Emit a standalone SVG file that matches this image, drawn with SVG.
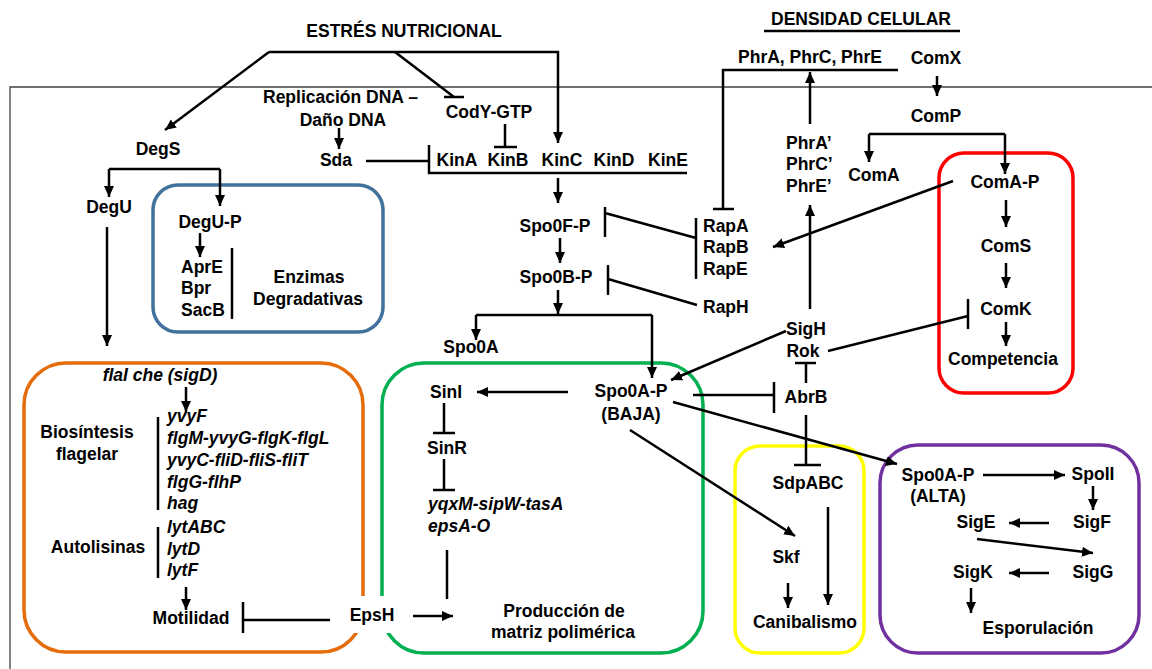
<svg xmlns="http://www.w3.org/2000/svg" width="1152" height="669" viewBox="0 0 1152 669">
<style>
.t{font-family:"Liberation Sans",Arial,sans-serif;font-weight:bold;font-size:17.5px;fill:#000}
.m{text-anchor:middle}
.i{font-style:italic}
.c path{fill:none;stroke:#000;stroke-width:2.5}
.box{fill:none;stroke-width:3.5}
</style>
<defs>
<marker id="ah" markerUnits="userSpaceOnUse" markerWidth="12" markerHeight="12" viewBox="0 0 12 12" refX="11" refY="6" orient="auto">
<path d="M0,1 L11,6 L0,11 z" fill="#000"/>
</marker>
</defs>
<rect width="1152" height="669" fill="#fff"/>
<path d="M10,669 L10,87 L1152,87" fill="none" stroke="#404040" stroke-width="1.3"/>

<g id="box-degradativas"><rect class="box" x="153" y="185" width="230" height="147" rx="25" stroke="#41719C"/></g>
<g id="box-motilidad"><rect class="box" x="24" y="363" width="339" height="289" rx="42" stroke="#E46C0A"/></g>
<g id="box-matriz"><rect class="box" x="382" y="363" width="321" height="290" rx="42" stroke="#00B050"/></g>
<g id="box-competencia"><rect class="box" x="939" y="153" width="134" height="240" rx="25" stroke="#FF0000"/></g>
<g id="box-canibalismo"><rect class="box" x="735" y="446" width="129" height="207" rx="25" stroke="#FFFF00"/></g>
<g id="box-esporulacion"><rect class="box" x="880" y="445" width="259" height="208" rx="38" stroke="#7030A0"/></g>
<rect x="338" y="596" width="66" height="37" fill="#fff"/>

<g id="connectors" class="c">
<path d="M269,52 L165,130" marker-end="url(#ah)"/>
<path d="M269,52 L558,52 L558,143" marker-end="url(#ah)"/>
<path d="M395,52 L454,97 M444,97 L464,97"/>
<path d="M505,124 L505,147 M494,147 L517,147"/>
<path d="M339,128 L339,149" marker-end="url(#ah)"/>
<path d="M366,161 L429,161 M429,145 L429,173 L687,173"/>
<path d="M558,178 L558,203" marker-end="url(#ah)"/>
<path d="M560,238 L560,263" marker-end="url(#ah)"/>
<path d="M605,207 L605,237 M605,213 L696,238 M696,218 L696,279"/>
<path d="M608,265 L608,295 M608,279 L697,305"/>
<path d="M558,290 L558,314" marker-end="url(#ah)"/>
<path d="M476,315 L652,315"/>
<path d="M476,315 L476,340" marker-end="url(#ah)"/>
<path d="M652,315 L652,378" marker-end="url(#ah)"/>
<path d="M723,209 L723,70 L898,70 M713,209 L734,209"/>
<path d="M810,124 L810,72" marker-end="url(#ah)"/>
<path d="M937,76 L937,96" marker-end="url(#ah)"/>
<path d="M869,134 L1005,134"/>
<path d="M869,134 L869,162" marker-end="url(#ah)"/>
<path d="M1005,134 L1005,174" marker-end="url(#ah)"/>
<path d="M953,181 L773,247" marker-end="url(#ah)"/>
<path d="M1006,200 L1006,227" marker-end="url(#ah)"/>
<path d="M1006,263 L1006,288" marker-end="url(#ah)"/>
<path d="M968,299 L968,329 M828,351 L968,316"/>
<path d="M1006,322 L1006,346" marker-end="url(#ah)"/>
<path d="M810,309 L810,205" marker-end="url(#ah)"/>
<path d="M786,331 L671,380" marker-end="url(#ah)"/>
<path d="M795,363 L816,363 M806,363 L806,383"/>
<path d="M693,395 L774,395 M774,382 L774,413"/>
<path d="M806,415 L806,465 M794,465 L821,465"/>
<path d="M673,402 L897,464" marker-end="url(#ah)"/>
<path d="M630,430 L795,536" marker-end="url(#ah)"/>
<path d="M788,583 L788,608" marker-end="url(#ah)"/>
<path d="M828,507 L828,605" marker-end="url(#ah)"/>
<path d="M983,475 L1065,475" marker-end="url(#ah)"/>
<path d="M1093,486 L1093,510" marker-end="url(#ah)"/>
<path d="M1049,523 L1009,523" marker-end="url(#ah)"/>
<path d="M977,539 L1093,553" marker-end="url(#ah)"/>
<path d="M1049,573 L1009,573" marker-end="url(#ah)"/>
<path d="M971,588 L971,613" marker-end="url(#ah)"/>
<path d="M568,392 L477,392" marker-end="url(#ah)"/>
<path d="M444,403 L444,433 M433,433 L455,433"/>
<path d="M444,459 L444,490 M433,490 L455,490"/>
<path d="M447,550 L447,599"/>
<path d="M413,616 L453,616" marker-end="url(#ah)"/>
<path d="M330,620 L243,620 M243,602 L243,633"/>
<path d="M186,587 L186,610" marker-end="url(#ah)"/>
<path d="M186,387 L186,412" marker-end="url(#ah)"/>
<path d="M107,227 L107,346" marker-end="url(#ah)"/>
<path d="M109,169 L220,169"/>
<path d="M109,169 L109,197" marker-end="url(#ah)"/>
<path d="M220,169 L220,206" marker-end="url(#ah)"/>
<path d="M200,233 L200,257" marker-end="url(#ah)"/>
<path d="M232,248 L232,319 M158,417 L158,510 M158,527 L158,578"/>
<path d="M764,31 L960,31"/>
</g>

<g id="n-estres"><text class="t m" x="404" y="37">ESTRÉS NUTRICIONAL</text></g>
<g id="n-densidad"><text class="t m" x="861" y="25">DENSIDAD CELULAR</text></g>
<g id="n-phr"><text class="t m" x="810" y="63">PhrA, PhrC, PhrE</text></g>
<g id="n-comx"><text class="t m" x="936" y="64">ComX</text></g>
<g id="n-comp"><text class="t m" x="936" y="122">ComP</text></g>
<g id="n-coma"><text class="t m" x="874" y="181">ComA</text></g>
<g id="n-comap"><text class="t m" x="1005" y="188">ComA-P</text></g>
<g id="n-coms"><text class="t m" x="1006" y="252">ComS</text></g>
<g id="n-comk"><text class="t m" x="1006" y="315">ComK</text></g>
<g id="n-competencia"><text class="t m" x="1003" y="365">Competencia</text></g>
<g id="n-phrp"><text class="t" x="786" y="149">PhrA’</text><text class="t" x="786" y="170">PhrC’</text><text class="t" x="786" y="192">PhrE’</text></g>
<g id="n-sigh"><text class="t m" x="806" y="335">SigH</text><text class="t m" x="803" y="357">Rok</text></g>
<g id="n-abrb"><text class="t m" x="806" y="403">AbrB</text></g>
<g id="n-sdpabc"><text class="t m" x="808" y="489">SdpABC</text></g>
<g id="n-skf"><text class="t m" x="786" y="563">Skf</text></g>
<g id="n-canibalismo"><text class="t m" x="805" y="628">Canibalismo</text></g>
<g id="n-spo0a-alta"><text class="t m" x="938" y="481">Spo0A-P</text><text class="t m" x="938" y="502">(ALTA)</text></g>
<g id="n-spoii"><text class="t m" x="1093" y="480">SpoII</text></g>
<g id="n-sigf"><text class="t m" x="1092" y="528">SigF</text></g>
<g id="n-sige"><text class="t m" x="976" y="528">SigE</text></g>
<g id="n-sigg"><text class="t m" x="1093" y="578">SigG</text></g>
<g id="n-sigk"><text class="t m" x="973" y="578">SigK</text></g>
<g id="n-esporulacion"><text class="t m" x="1038" y="634">Esporulación</text></g>
<g id="n-replicacion"><text class="t" x="263" y="103">Replicación DNA –</text><text class="t m" x="343" y="126">Daño DNA</text></g>
<g id="n-sda"><text class="t m" x="336" y="166">Sda</text></g>
<g id="n-cody"><text class="t m" x="489" y="118">CodY-GTP</text></g>
<g id="n-kin"><text class="t m" x="457" y="166">KinA</text><text class="t m" x="508" y="166">KinB</text><text class="t m" x="562" y="166">KinC</text><text class="t m" x="614" y="166">KinD</text><text class="t m" x="668" y="166">KinE</text></g>
<g id="n-spo0f"><text class="t m" x="555" y="232">Spo0F-P</text></g>
<g id="n-spo0b"><text class="t m" x="556" y="283">Spo0B-P</text></g>
<g id="n-rap"><text class="t" x="703" y="232">RapA</text><text class="t" x="703" y="253">RapB</text><text class="t" x="703" y="275">RapE</text></g>
<g id="n-raph"><text class="t" x="703" y="313">RapH</text></g>
<g id="n-spo0a"><text class="t m" x="471" y="353">Spo0A</text></g>
<g id="n-spo0a-baja"><text class="t m" x="631" y="397">Spo0A-P</text><text class="t m" x="631" y="420">(BAJA)</text></g>
<g id="n-sini"><text class="t m" x="446" y="398">SinI</text></g>
<g id="n-sinr"><text class="t m" x="447" y="454">SinR</text></g>
<g id="n-matrix-genes"><text class="t i" x="428" y="510">yqxM-sipW-tasA</text><text class="t i" x="428" y="532">epsA-O</text></g>
<g id="n-produccion"><text class="t m" x="564" y="617">Producción de</text><text class="t m" x="563" y="638">matriz polimérica</text></g>
<g id="n-epsh"><text class="t m" x="372" y="621">EpsH</text></g>
<g id="n-motilidad"><text class="t m" x="191" y="624">Motilidad</text></g>
<g id="n-degs"><text class="t m" x="158" y="155">DegS</text></g>
<g id="n-degu"><text class="t m" x="109" y="213">DegU</text></g>
<g id="n-degup"><text class="t m" x="210" y="228">DegU-P</text></g>
<g id="n-enzimas-genes"><text class="t" x="181" y="273">AprE</text><text class="t" x="181" y="294">Bpr</text><text class="t" x="181" y="316">SacB</text></g>
<g id="n-enzimas"><text class="t m" x="309" y="283">Enzimas</text><text class="t m" x="308" y="305">Degradativas</text></g>
<g id="n-flai"><text class="t i m" x="160" y="381">flaI che (sigD)</text></g>
<g id="n-biosintesis"><text class="t m" x="87" y="438">Biosíntesis</text><text class="t m" x="87" y="460">flagelar</text></g>
<g id="n-flag-genes"><text class="t i" x="167" y="422">yvyF</text><text class="t i" x="167" y="444">flgM-yvyG-flgK-flgL</text><text class="t i" x="167" y="466">yvyC-fliD-fliS-fliT</text><text class="t i" x="167" y="488">flgG-flhP</text><text class="t i" x="167" y="509">hag</text></g>
<g id="n-autolisinas"><text class="t m" x="98" y="553">Autolisinas</text></g>
<g id="n-lyt-genes"><text class="t i" x="167" y="533">lytABC</text><text class="t i" x="167" y="555">lytD</text><text class="t i" x="167" y="576">lytF</text></g>
</svg>
